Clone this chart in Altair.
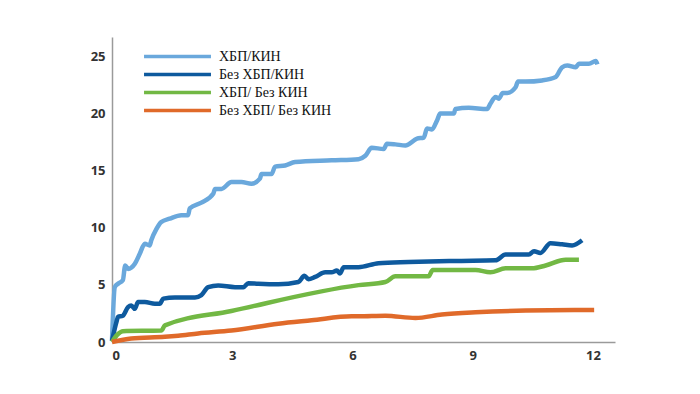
import altair as alt
import pandas as pd

series_names = ["ХБП/КИН", "Без ХБП/КИН", "ХБП/ Без КИН", "Без ХБП/ Без КИН"]
colors = ["#6aa8dc", "#0e5a9e", "#72b844", "#e06a2a"]

x_ckd_cin = [0, 0.07, 0.15, 0.27, 0.33, 0.4, 0.57, 0.69, 0.82, 0.94, 0.98, 1.11, 1.23, 1.44, 1.73, 1.9, 1.94,
             2.23, 2.53, 2.57, 2.73, 2.98, 3.23, 3.48, 3.69, 3.73, 3.98, 4.07, 4.32, 4.57, 5.48, 6.15, 6.32,
             6.48, 6.78, 6.86, 7.07, 7.32, 7.61, 7.78, 7.86, 7.98, 8.11, 8.19, 8.4, 8.53, 8.57, 8.9, 9.36,
             9.44, 9.57, 9.65, 9.75, 9.86, 10.07, 10.13, 10.32, 10.73, 11.07, 11.23, 11.36, 11.57, 11.65,
             11.9, 12.07, 12.11]
y_ckd_cin = [0.1, 4.8, 5.1, 5.4, 6.7, 6.4, 6.85, 7.7, 8.6, 8.45, 8.9, 9.9, 10.5, 10.8, 11.1, 11.1, 11.7,
             12.2, 13.0, 13.4, 13.4, 14.0, 14.0, 13.85, 14.3, 14.7, 14.7, 15.35, 15.45, 15.75, 15.9, 16.0, 16.3,
             17.0, 16.9, 17.35, 17.3, 17.2, 17.8, 17.9, 18.7, 18.6, 19.4, 20.0, 20.0, 20.0, 20.4, 20.5, 20.4,
             20.85, 21.45, 21.3, 21.8, 21.8, 22.3, 22.8, 22.8, 22.9, 23.2, 24.05, 24.2, 24.05, 24.35,
             24.35, 24.6, 24.3]

x_nockd_cin = [0, 0.11, 0.15, 0.27, 0.4, 0.48, 0.57, 0.65, 0.82, 1.07, 1.19, 1.28, 1.57, 2.07, 2.23, 2.4,
               2.65, 3.07, 3.28, 3.4, 3.65, 4.15, 4.65, 4.8, 4.9, 5.07, 5.32, 5.48, 5.61, 5.69, 5.78, 6.15,
               6.65, 7.4, 8.65, 9.57, 9.82, 10.4, 10.53, 10.69, 10.94, 11.23, 11.48, 11.73]
y_nockd_cin = [0.1, 1.75, 2.2, 2.3, 3.05, 3.2, 2.9, 3.5, 3.5, 3.35, 3.35, 3.8, 3.9, 3.9, 4.1, 4.8,
               4.95, 4.8, 4.8, 5.15, 5.1, 5.05, 5.25, 5.8, 5.5, 5.7, 6.1, 6.1, 6.25, 6.0, 6.55, 6.55,
               6.9, 7.0, 7.1, 7.15, 7.65, 7.65, 7.95, 7.8, 8.65, 8.55, 8.45, 8.9]

x_ckd_nocin = [0, 0.15, 0.27, 1.23, 1.32, 2.98, 6.15, 6.82, 7.07, 7.9, 8.0, 9.07, 9.44, 9.82, 10.48,
               10.82, 11.32, 11.65]
y_ckd_nocin = [0, 0.7, 0.95, 1.0, 1.45, 2.72, 4.98, 5.25, 5.75, 5.75, 6.3, 6.3, 6.1, 6.45, 6.45,
               6.7, 7.2, 7.2]

x_nockd_nocin = [0, 0.48, 1.32, 1.65, 2.15, 2.98, 4.15, 4.98, 5.98, 6.15, 6.82, 7.57, 8.23, 9.07, 10.32, 12.03]
y_nockd_nocin = [0, 0.3, 0.45, 0.55, 0.75, 1.0, 1.6, 1.9, 2.25, 2.25, 2.3, 2.1, 2.4, 2.6, 2.75, 2.8]

x_ticks = [0, 3, 6, 9, 12]
y_ticks = [0, 5, 10, 15, 20, 25]

rows = []
for name, xs, ys in [
    (series_names[0], x_ckd_cin, y_ckd_cin),
    (series_names[1], x_nockd_cin, y_nockd_cin),
    (series_names[2], x_ckd_nocin, y_ckd_nocin),
    (series_names[3], x_nockd_nocin, y_nockd_nocin),
]:
    for i, (xv, yv) in enumerate(zip(xs, ys)):
        rows.append({"series": name, "t": xv, "v": yv, "order": i})
df = pd.DataFrame(rows)

axis_common = dict(
    grid=False, ticks=False, domainColor="#9a9a9a", domainWidth=1.5,
    labelFont="Open Sans", labelFontSize=13, labelFontWeight="bold", labelColor="#333333",
    labelPadding=7, title=None,
)

chart = alt.Chart(df).mark_line(strokeWidth=4.5, interpolate="monotone").encode(
    x=alt.X("t:Q", scale=alt.Scale(domain=[0, 12.55], nice=False),
            axis=alt.Axis(values=x_ticks, **axis_common)),
    y=alt.Y("v:Q", scale=alt.Scale(domain=[0, 26.7], nice=False),
            axis=alt.Axis(values=y_ticks, **axis_common)),
    color=alt.Color("series:N", scale=alt.Scale(domain=series_names, range=colors),
                    sort=series_names,
                    legend=alt.Legend(
                        title=None, orient="none", legendX=55, legendY=9,
                        symbolType="M-4,0H4", symbolStrokeWidth=3.5, symbolSize=280,
                        rowPadding=0, labelFont="Liberation Serif", labelFontSize=14,
                        labelColor="#111111", labelOffset=31, labelLimit=300,
                    )),
    order="order:Q",
).properties(
    width=503, height=305,
    autosize=alt.AutoSizeParams(type="none"),
    padding={"left": 104, "top": 29, "right": 70, "bottom": 40},
).configure_view(stroke=None)

chart.save("out.html", embed_options={"renderer": "svg", "actions": False})
